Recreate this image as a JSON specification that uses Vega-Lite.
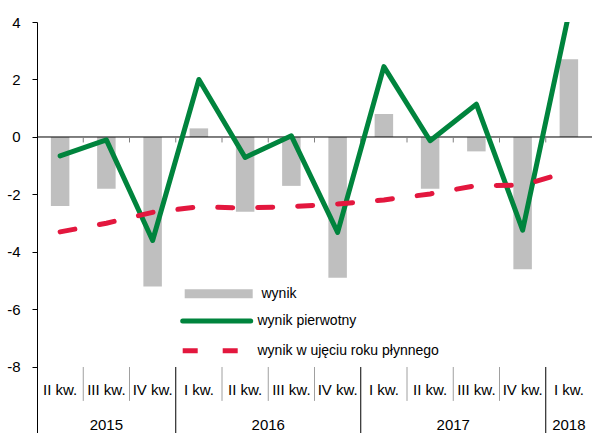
{
  "$schema": "https://vega.github.io/schema/vega-lite/v6.json",
  "width": 555,
  "height": 411,
  "autosize": {"type": "none"},
  "padding": {"left": 37, "top": 22, "right": 0, "bottom": 0},
  "config": {
    "font": "Liberation Sans",
    "view": {"stroke": null},
    "axis": {"labelFont": "Liberation Sans"},
    "legend": {
      "labelFont": "Liberation Sans", "title": null, "orient": "none",
      "symbolType": "stroke", "symbolSize": 4624, "symbolStrokeWidth": 5,
      "labelFontSize": 14, "labelColor": "#000", "labelOffset": 4.3, "labelLimit": 400,
      "padding": 0
    },
    "text": {"font": "Liberation Sans"}
  },
  "data": {
    "values": [
      {"q": "2015 II", "kw": "II kw.", "rok": "2015", "wynik": -2.4, "pierwotny": -0.66, "roczny": -3.3},
      {"q": "2015 III", "kw": "III kw.", "rok": "2015", "wynik": -1.8, "pierwotny": -0.1, "roczny": -3.0},
      {"q": "2015 IV", "kw": "IV kw.", "rok": "2015", "wynik": -5.2, "pierwotny": -3.6, "roczny": -2.62},
      {"q": "2016 I", "kw": "I kw.", "rok": "2016", "wynik": 0.3, "pierwotny": 2.0, "roczny": -2.43},
      {"q": "2016 II", "kw": "II kw.", "rok": "2016", "wynik": -2.6, "pierwotny": -0.71, "roczny": -2.47},
      {"q": "2016 III", "kw": "III kw.", "rok": "2016", "wynik": -1.7, "pierwotny": 0.04, "roczny": -2.42},
      {"q": "2016 IV", "kw": "IV kw.", "rok": "2016", "wynik": -4.9, "pierwotny": -3.32, "roczny": -2.33},
      {"q": "2017 I", "kw": "I kw.", "rok": "2017", "wynik": 0.8, "pierwotny": 2.45, "roczny": -2.19},
      {"q": "2017 II", "kw": "II kw.", "rok": "2017", "wynik": -1.8, "pierwotny": -0.13, "roczny": -1.98},
      {"q": "2017 III", "kw": "III kw.", "rok": "2017", "wynik": -0.5, "pierwotny": 1.14, "roczny": -1.69},
      {"q": "2017 IV", "kw": "IV kw.", "rok": "2017", "wynik": -4.6, "pierwotny": -3.24, "roczny": -1.68},
      {"q": "2018 I", "kw": "I kw.", "rok": "2018", "wynik": 2.7, "pierwotny": 4.3, "roczny": -1.2}
    ]
  },
  "layer": [
    {
      "mark": {"type": "bar", "width": {"band": 0.4}},
      "encoding": {
        "x": {
          "field": "q", "type": "nominal", "axis": null,
          "scale": {
            "type": "band", "paddingInner": 0, "paddingOuter": 0,
            "domain": ["2015 II", "2015 III", "2015 IV", "2016 I", "2016 II", "2016 III", "2016 IV", "2017 I", "2017 II", "2017 III", "2017 IV", "2018 I"]
          }
        },
        "y": {
          "field": "wynik", "type": "quantitative",
          "scale": {"domain": [-10.296, 4], "nice": false, "zero": false},
          "axis": {
            "values": [-8, -6, -4, -2, 0, 2, 4], "title": null, "grid": false,
            "labelExpr": "toString(datum.value)",
            "domainColor": "#000", "tickColor": "#000", "tickSize": 5, "labelPadding": 12,
            "labelFontSize": 15, "labelColor": "#000", "labelFont": "Liberation Sans"
          }
        },
        "y2": {"datum": 0},
        "fill": {
          "datum": "wynik", "type": "nominal",
          "scale": {"domain": ["wynik"], "range": ["#bfbfbf"]},
          "legend": {
            "legendX": 143.2, "legendY": 233.2,
            "encode": {
              "symbols": {
                "update": {
                  "stroke": {"value": "#bfbfbf"},
                  "fill": {"value": "transparent"},
                  "opacity": {"value": 1},
                  "strokeWidth": {"value": 9},
                  "strokeCap": {"value": "butt"}
                }
              }
            }
          }
        }
      }
    },
    {
      "transform": [{"filter": "datum.q === '2015 II'"}],
      "mark": {"type": "rule", "color": "#000", "strokeWidth": 1},
      "encoding": {"y": {"datum": 0, "type": "quantitative"}}
    },
    {
      "transform": [{"filter": "datum.q !== '2015 II'"}],
      "mark": {"type": "rule", "color": "#808080", "strokeWidth": 1},
      "encoding": {
        "x": {"field": "q", "type": "nominal", "bandPosition": 0},
        "y": {"datum": 0, "type": "quantitative"},
        "y2": {"datum": -0.19}
      }
    },
    {
      "mark": {"type": "line", "strokeWidth": 5, "strokeCap": "round", "strokeJoin": "round", "clip": true},
      "encoding": {
        "x": {"field": "q", "type": "nominal"},
        "y": {"field": "pierwotny", "type": "quantitative", "axis": {"title": null}},
        "stroke": {
          "datum": "wynik pierwotny", "type": "nominal",
          "scale": {"domain": ["wynik pierwotny"], "range": ["#00843d"]},
          "legend": {
            "legendX": 143.2, "legendY": 262.5,
            "encode": {
              "symbols": {
                "update": {
                  "stroke": {"value": "#00843d"},
                  "fill": {"value": "transparent"},
                  "opacity": {"value": 1},
                  "strokeWidth": {"value": 5},
                  "strokeCap": {"value": "round"}
                }
              }
            }
          }
        }
      }
    },
    {
      "mark": {"type": "line", "color": "#e3173e", "strokeWidth": 5, "strokeCap": "round", "strokeJoin": "round", "clip": true},
      "encoding": {
        "x": {"field": "q", "type": "nominal"},
        "y": {"field": "roczny", "type": "quantitative", "axis": {"title": null}},
        "strokeDash": {
          "datum": "wynik w ujęciu roku płynnego", "type": "nominal",
          "scale": {"domain": ["wynik w ujęciu roku płynnego"], "range": [[15, 25]]},
          "legend": {
            "legendX": 143.2, "legendY": 292.2,
            "encode": {
              "symbols": {
                "update": {
                  "stroke": {"value": "#e3173e"},
                  "fill": {"value": "transparent"},
                  "opacity": {"value": 1},
                  "strokeWidth": {"value": 5},
                  "strokeCap": {"value": "round"},
                  "strokeDash": {"value": [16, 20]}
                }
              }
            }
          }
        }
      }
    },
    {
      "mark": {"type": "text", "fontSize": 15, "color": "#000", "font": "Liberation Sans"},
      "encoding": {
        "x": {"field": "q", "type": "nominal"},
        "y": {"datum": -8.8, "type": "quantitative"},
        "text": {"field": "kw"}
      }
    },
    {
      "transform": [{"filter": "datum.kw !== 'I kw.' && datum.q !== '2015 II'"}],
      "mark": {"type": "rule", "color": "#a0a0a0", "strokeWidth": 1},
      "encoding": {
        "x": {"field": "q", "type": "nominal", "bandPosition": 0},
        "y": {"datum": -8, "type": "quantitative"},
        "y2": {"datum": -9.18}
      }
    },
    {
      "transform": [{"filter": "datum.kw === 'I kw.'"}],
      "mark": {"type": "rule", "color": "#000", "strokeWidth": 1},
      "encoding": {
        "x": {"field": "q", "type": "nominal", "bandPosition": 0},
        "y": {"datum": -8, "type": "quantitative"},
        "y2": {"datum": -10.296}
      }
    },
    {
      "transform": [{"filter": "datum.q === '2015 III' || datum.q === '2018 I'"}],
      "mark": {"type": "text", "fontSize": 15, "color": "#000", "font": "Liberation Sans"},
      "encoding": {
        "x": {"field": "q", "type": "nominal"},
        "y": {"datum": -10.02, "type": "quantitative"},
        "text": {"field": "rok"}
      }
    },
    {
      "transform": [{"filter": "datum.q === '2016 II' || datum.q === '2017 II'"}],
      "mark": {"type": "text", "fontSize": 15, "color": "#000", "font": "Liberation Sans"},
      "encoding": {
        "x": {"field": "q", "type": "nominal", "bandPosition": 1},
        "y": {"datum": -10.02, "type": "quantitative"},
        "text": {"field": "rok"}
      }
    }
  ]
}
